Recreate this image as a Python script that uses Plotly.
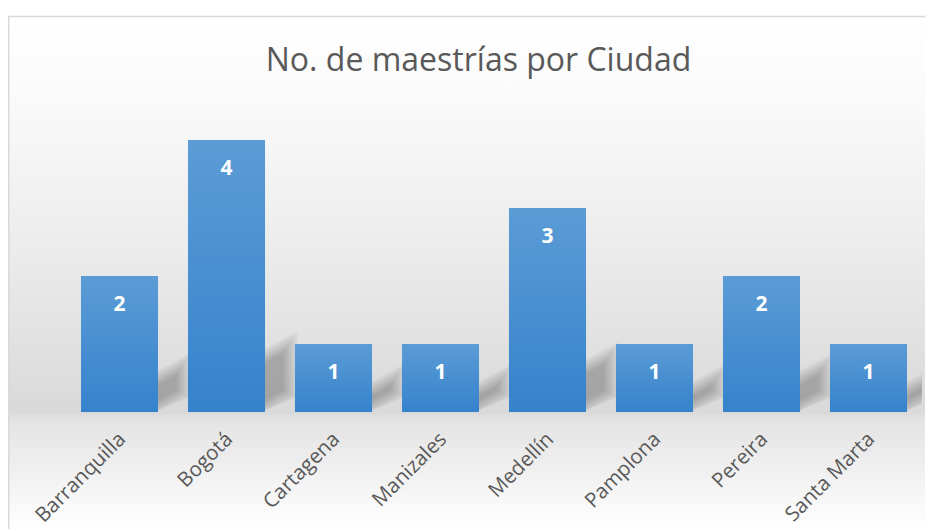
import plotly.graph_objects as go
import urllib.parse

# ---- data ----
cities = ["Barranquilla", "Bogotá", "Cartagena", "Manizales", "Medellín",
          "Pamplona", "Pereira", "Santa Marta"]
counts = [2, 4, 1, 1, 3, 1, 2, 1]
title_text = "No. de maestrías por Ciudad"

# ---- style ----
W, H = 925, 521          # page body has an 8px margin
M_L, M_R, M_T, M_B = 58, 11, 98, 117
Y_MAX = 4.5
BAR_W = 0.72
LABEL_OFFSET = 0.44
BAR_TOP = "#5b9cd6"
BAR_BOT = "#3582cc"
TXT = "#595959"

plot_w = W - M_L - M_R
plot_h = H - M_T - M_B
n = len(cities)
PX_X = plot_w / n          # pixels per x unit
PX_Y = plot_h / Y_MAX      # pixels per y unit

fig = go.Figure()

# soft perspective shadows (derived from each bar's value), layered to fake a blur
SH_W, SH_SLOPE = 28, 15 / 28
LAYERS = [(-5 + 1.5 * k, 0.024) for k in range(11)]
for i, v in enumerate(counts):
    xr = i + BAR_W / 2
    hs = 15 + 11 * v
    for e, a in LAYERS:
        if hs - 2 * e - 2 < 3 or SH_W - e < 6:
            continue
        xl_px, xr_px = -4, SH_W - e
        pts_px = [(xl_px, 2 + e + SH_SLOPE * xl_px), (xr_px, 2 + e + SH_SLOPE * xr_px),
                  (xr_px, hs - e + SH_SLOPE * xr_px), (xl_px, hs - e + SH_SLOPE * xl_px)]
        pts_px.append(pts_px[0])
        fig.add_trace(go.Scatter(
            x=[xr + p[0] / PX_X for p in pts_px], y=[max(p[1], 0) / PX_Y for p in pts_px],
            mode="lines", fill="toself", line=dict(width=0),
            fillcolor=f"rgba(0,0,0,{a})", hoverinfo="skip", showlegend=False))

for i, (c, v) in enumerate(zip(cities, counts)):
    x0, x1 = i - BAR_W / 2, i + BAR_W / 2
    fig.add_trace(go.Scatter(
        x=[x0, x1, x1, x0, x0], y=[0, 0, v, v, 0],
        mode="lines", fill="toself", line=dict(width=0),
        fillgradient=dict(type="vertical",
                          colorscale=[[0, BAR_BOT], [1, BAR_TOP]]),
        hoverinfo="skip", showlegend=False, name=c))

fig.add_trace(go.Scatter(
    x=list(range(n)), y=[v - LABEL_OFFSET for v in counts],
    text=[str(v) for v in counts], mode="text", textposition="middle center",
    textfont=dict(family="Open Sans", size=21, color="white", weight="bold"),
    hoverinfo="skip", showlegend=False))

# background gradient + border as an SVG image
svg = f'''<svg xmlns="http://www.w3.org/2000/svg" width="{W}" height="{H}" viewBox="0 0 {W} {H}" preserveAspectRatio="none">
<defs><linearGradient id="g" gradientUnits="userSpaceOnUse" x1="0" y1="8" x2="0" y2="{H}">
<stop offset="0" stop-color="#ffffff"/>
<stop offset="0.14" stop-color="#fbfbfb"/>
<stop offset="0.45" stop-color="#ececec"/>
<stop offset="0.772" stop-color="#d9d9d9"/>
<stop offset="0.785" stop-color="#e3e3e3"/>
<stop offset="1" stop-color="#ffffff"/>
</linearGradient></defs>
<rect x="0.75" y="8.5" width="{W+20}" height="{H}" fill="url(#g)" stroke="#d9d9d9" stroke-width="1.5"/>
</svg>'''
src = "data:image/svg+xml;charset=utf-8," + urllib.parse.quote(svg)

fig.add_layout_image(dict(
    source=src, xref="paper", yref="paper",
    x=-M_L / plot_w, y=1 + M_T / plot_h,
    sizex=W / plot_w, sizey=H / plot_h,
    xanchor="left", yanchor="top", sizing="stretch", layer="below"))

fig.update_layout(
    width=W, height=H,
    margin=dict(l=M_L, r=M_R, t=M_T, b=M_B, autoexpand=False),
    paper_bgcolor="white", plot_bgcolor="rgba(0,0,0,0)",
    title=dict(text=title_text, x=(478.5 - 8) / W, xref="container", xanchor="center",
               y=(H - 52) / H, yanchor="middle",
               font=dict(family="Open Sans", size=32, color=TXT)),
    xaxis=dict(range=[-0.5, n - 0.5], tickvals=list(range(n)),
               ticktext=cities, tickangle=-45, showgrid=False, zeroline=False,
               showline=False, ticks="", ticklabelstandoff=10,
               tickfont=dict(family="Open Sans", size=20.5, color=TXT), fixedrange=True),
    yaxis=dict(range=[0, Y_MAX], visible=False, fixedrange=True),
    showlegend=False,
)

fig.write_html("out.html")
